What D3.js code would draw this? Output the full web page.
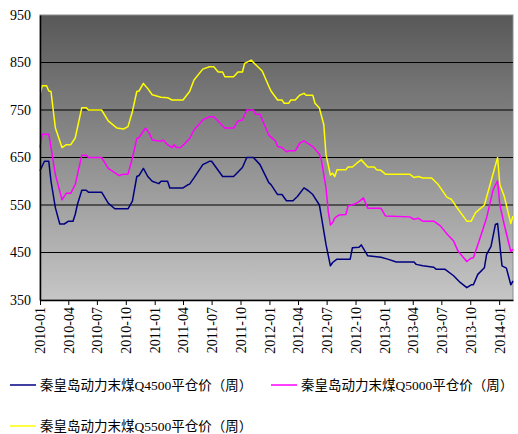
<!DOCTYPE html>
<html><head><meta charset="utf-8">
<script src="https://cdn.jsdelivr.net/npm/d3@7"></script>
<style>body{margin:0;background:#fff}</style>
</head><body><svg id="c" width="518" height="434"></svg>
<script>
// ---- data (x = weeks since 2010-01-01, y = price) ----
const startDate = "2010-01-01";
const lastWeek = 215;
const tickLabels = ["2010-01","2010-04","2010-07","2010-10","2011-01","2011-04","2011-07","2011-10",
  "2012-01","2012-04","2012-07","2012-10","2013-01","2013-04","2013-07","2013-10","2014-01"];
const yTicks = [350,450,550,650,750,850,950];
const seriesNames = ["秦皇岛动力末煤Q4500平仓价（周）","秦皇岛动力末煤Q5000平仓价（周）","秦皇岛动力末煤Q5500平仓价（周）"];

const q4500 = [[0,622],[2,642],[4,642],[5,600],[7,544],[9,510],[11,510],[13,516],[15,516],[16,530],[17,551],
  [19,581],[21,581],[22,577],[28,577],[31,554],[34,542],[40,542],[42,558],[44,610],[45,612],[47,627],[49,610],
  [51,600],[54,595],[55,600],[58,600],[59,586],[65,586],[67,592],[68,594],[70,607],[74,635],[77,642],[78,642],
  [83,610],[88,610],[92,629],[94,650],[97,650],[100,635],[104,597],[105,593],[108,572],[110,572],[112,559],
  [115,559],[117,568],[120,586],[122,580],[124,572],[127,550],[128,523],[130,467],[132,422],[133,429],[135,436],
  [141,436],[142,460],[145,461],[146,466],[149,443],[155,440],[158,436],[162,430],[170,430],[171,425],[174,422],
  [179,419],[180,415],[184,415],[188,401],[191,387],[194,376],[196,382],[197,382],[199,404],[202,418],[203,446],
  [205,463],[207,509],[208,511],[210,422],[212,417],[214,382],[215,390]];
const q5000 = [[0,671],[1,699],[4,699],[5,671],[7,614],[10,561],[12,575],[14,575],[16,593],[19,655],[21,655],
  [22,650],[28,650],[31,627],[36,612],[38,615],[40,615],[42,649],[44,690],[45,692],[48,712],[50,698],[51,687],
  [55,684],[56,687],[58,677],[60,671],[61,677],[62,671],[64,671],[67,685],[68,690],[70,708],[74,729],[77,736],
  [79,736],[84,712],[88,712],[90,727],[92,729],[94,750],[97,750],[98,741],[100,741],[104,697],[107,685],[108,673],
  [110,671],[112,662],[113,664],[116,664],[118,680],[120,685],[124,673],[127,657],[128,642],[130,586],[131,537],
  [132,508],[133,513],[134,523],[136,529],[139,530],[140,548],[143,552],[145,557],[147,565],[149,543],[155,543],
  [157,527],[168,525],[170,520],[172,522],[174,516],[179,516],[182,506],[185,489],[188,474],[190,453],[194,431],
  [196,438],[197,439],[200,480],[203,523],[206,583],[208,601],[209,551],[211,509],[214,452],[215,457]];
const q5500 = [[0,782],[1,801],[3,801],[4,790],[5,789],[7,712],[10,671],[12,677],[14,677],[16,691],[19,755],
  [21,755],[22,750],[28,750],[31,727],[35,712],[38,710],[40,715],[42,747],[44,789],[45,790],[47,806],[49,795],
  [51,782],[55,777],[58,776],[60,771],[65,771],[68,789],[70,813],[74,836],[77,841],[79,841],[81,830],[83,830],
  [84,820],[88,820],[90,830],[92,830],[93,848],[96,855],[99,841],[101,832],[104,800],[105,790],[108,771],[110,771],
  [111,764],[113,764],[114,771],[116,771],[118,781],[120,785],[121,781],[124,781],[125,764],[127,754],[129,719],
  [130,656],[132,613],[133,617],[134,610],[135,624],[139,624],[140,630],[142,630],[144,638],[146,645],[149,630],
  [152,630],[153,624],[155,623],[157,615],[168,615],[170,608],[172,610],[174,607],[178,607],[181,593],[185,566],
  [187,562],[189,548],[194,516],[196,516],[198,534],[202,550],[205,600],[208,650],[209,593],[211,569],[214,511],
  [215,527]];
const seriesColors = ["#000080","#FF00FF","#FFFF00"];

// ---- layout ----
const svg = d3.select("#c");
const L = 40, R = 513, T = 15, B = 300;
const parseDay = d3.timeParse("%Y-%m-%d"), parseMonth = d3.timeParse("%Y-%m");
const t0 = parseDay(startDate);
const wk = w => d3.timeDay.offset(t0, w * 7);
const x = d3.scaleTime().domain([t0, wk(lastWeek)]).range([L, R]);
const y = d3.scaleLinear().domain([350, 950]).range([B, T]);
const serif = "'Liberation Serif','Times New Roman','Noto Sans CJK SC',serif";

const defs = svg.append("defs");
const g = defs.append("linearGradient").attr("id","bg").attr("x1",0).attr("y1",0).attr("x2",0).attr("y2",1);
g.append("stop").attr("offset","0%").attr("stop-color","#585858");
g.append("stop").attr("offset","100%").attr("stop-color","#c6c6c6");

svg.append("rect").attr("x",L).attr("y",T).attr("width",R-L).attr("height",B-T)
  .attr("fill","url(#bg)").attr("stroke","#8c8c8c").attr("stroke-width",1);

// gridlines
svg.append("g").selectAll("line").data(yTicks.filter(v => v > 350 && v < 950)).join("line")
  .attr("x1",L).attr("x2",R).attr("y1",d=>y(d)).attr("y2",d=>y(d))
  .attr("stroke","#000").attr("stroke-width",1.2);

// lines
const line = d3.line().x(d => x(wk(d[0]))).y(d => y(d[1]));
[q4500, q5000, q5500].forEach((s,i) => {
  svg.append("path").datum(s).attr("d", line).attr("fill","none")
    .attr("stroke", seriesColors[i]).attr("stroke-width",1.5).attr("stroke-linejoin","round");
});

// axes
const xa = svg.append("g").attr("transform",`translate(0,${B})`)
  .call(d3.axisBottom(x).tickValues(tickLabels.map(parseMonth)).tickFormat(d3.timeFormat("%Y-%m")).tickSize(5).tickSizeOuter(0));
xa.select(".domain").attr("stroke","#000").attr("stroke-width",1.5);
xa.selectAll(".tick line").attr("stroke","#000");
xa.selectAll(".tick text").attr("font-family",serif).attr("font-size",14).attr("fill","#000")
  .attr("text-anchor","end").attr("transform","rotate(-90)").attr("x",-7).attr("y",0).attr("dy","0.35em");

const ya = svg.append("g").attr("transform",`translate(${L},0)`)
  .call(d3.axisLeft(y).tickValues(yTicks).tickSize(0).tickPadding(9));
ya.select(".domain").attr("stroke","#000").attr("stroke-width",1.5);
ya.selectAll(".tick text").attr("font-family",serif).attr("font-size",14).attr("fill","#000");

// legend
const legPos = [[10,385],[271,385],[10,426]];
seriesNames.forEach((n,i) => {
  const [lx,ly] = legPos[i];
  svg.append("line").attr("x1",lx).attr("x2",lx+26).attr("y1",ly).attr("y2",ly)
    .attr("stroke",seriesColors[i]).attr("stroke-width",1.5);
  svg.append("text").attr("x",lx+30).attr("y",ly).attr("dy","0.36em")
    .attr("font-family",serif).attr("font-size",13.5).attr("fill","#000").text(n);
});
</script></body></html>
